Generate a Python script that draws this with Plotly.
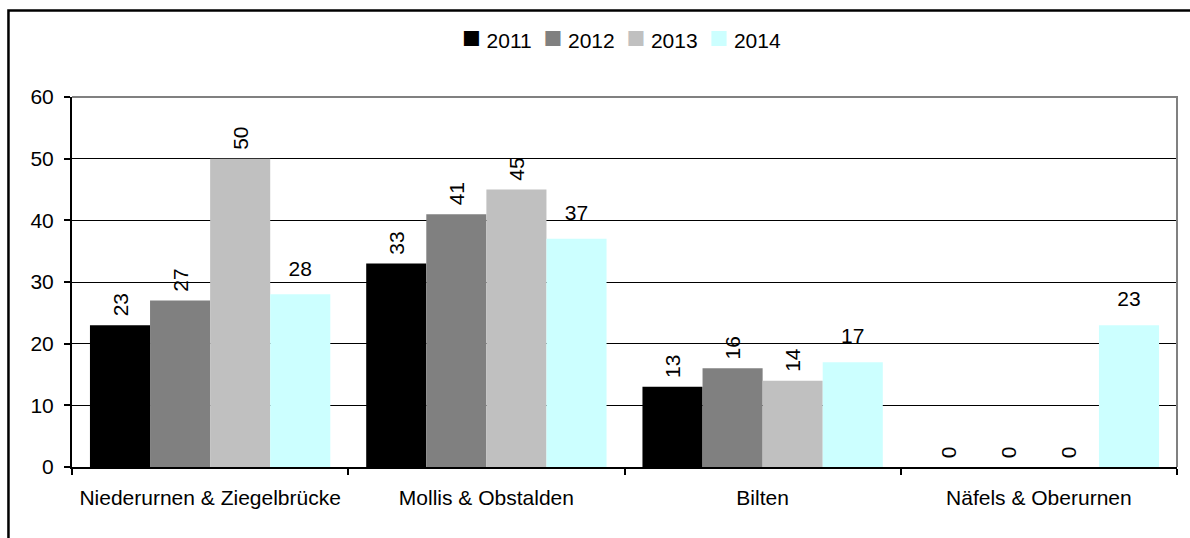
import plotly.graph_objects as go

# Ortsteile and yearly counts
categories = ["Niederurnen & Ziegelbrücke", "Mollis & Obstalden", "Bilten", "Näfels & Oberurnen"]
years = ["2011", "2012", "2013", "2014"]
values_2011 = [23, 33, 13, 0]
values_2012 = [27, 41, 16, 0]
values_2013 = [50, 45, 14, 0]
values_2014 = [28, 37, 17, 23]

series = [values_2011, values_2012, values_2013, values_2014]
colors = ["#000000", "#808080", "#C0C0C0", "#CCFFFF"]
vertical_labels = [True, True, True, False]

FONT = "Liberation Sans, Arial, sans-serif"
FS = 21
NBSP = "\u00a0"

fig = go.Figure()
for year, vals, color, vertical in zip(years, series, colors, vertical_labels):
    fig.add_trace(go.Bar(
        name=year,
        x=categories,
        y=vals,
        offsetgroup=year,
        marker=dict(color=color, line=dict(width=0)),
        text=[NBSP + str(v) for v in vals] if vertical else None,
        textposition="outside" if vertical else "none",
        textangle=-90,
        textfont=dict(family=FONT, size=FS, color="#000000"),
        cliponaxis=False,
        hoverinfo="x+y+name",
    ))

# horizontal value labels (2014) sit on grouped scatter points above the bars
for year, vals, vertical in zip(years, series, vertical_labels):
    fig.add_trace(go.Scatter(
        x=categories,
        y=vals,
        offsetgroup=year,
        mode="markers+text" if not vertical else "markers",
        text=None if vertical else [str(v) for v in vals],
        textposition="top center",
        textfont=dict(family=FONT, size=FS, color="#000000"),
        marker=dict(size=20, opacity=0),
        showlegend=False,
        hoverinfo="skip",
        cliponaxis=False,
    ))

# legend line: coloured squares followed by the year
legend_text = (NBSP * 2).join(
    f'<span style="color:{c};font-size:31px">■</span>{NBSP}{y}'
    for y, c in zip(years, colors)
)
fig.add_annotation(
    xref="paper", yref="paper", x=0.497, y=1.162,
    xanchor="center", yanchor="middle",
    text=legend_text, showarrow=False,
    font=dict(family=FONT, size=FS, color="#000000"),
)

fig.update_layout(
    width=1190,
    height=538,
    margin=dict(l=72, r=13, t=97, b=71),
    paper_bgcolor="white",
    plot_bgcolor="white",
    font=dict(family=FONT, size=FS, color="#000000"),
    barmode="group",
    bargap=0.13,
    bargroupgap=0,
    scattermode="group",
    scattergap=0.13,
    showlegend=False,
)

fig.update_xaxes(
    type="category",
    showline=True, linecolor="#000000", linewidth=2,
    ticks="outside", tickson="boundaries", ticklen=6, tickcolor="#000000", tickwidth=2,
    showgrid=False,
    tickfont=dict(family=FONT, size=FS),
    ticklabelstandoff=11,
)
fig.update_yaxes(
    range=[0, 60], dtick=10,
    showline=True, linecolor="#000000", linewidth=2,
    ticks="outside", ticklen=6, tickcolor="#000000", tickwidth=2,
    showgrid=True, gridcolor="#000000", gridwidth=1.4,
    zeroline=False,
    tickfont=dict(family=FONT, size=FS),
    ticklabelstandoff=6,
)

# grey frame on the top and right of the plot area
fig.add_shape(type="path", xref="paper", yref="paper",
              path="M 0,1 L 1,1 L 1,0",
              line=dict(color="#808080", width=2), layer="above")

# outer chart border
fig.add_shape(type="rect", xref="paper", yref="paper",
              x0=-0.0575, x1=1.2, y0=-0.4, y1=1.2338,
              line=dict(color="#000000", width=2.5), fillcolor="rgba(0,0,0,0)",
              layer="below")

fig.write_html("out.html")
